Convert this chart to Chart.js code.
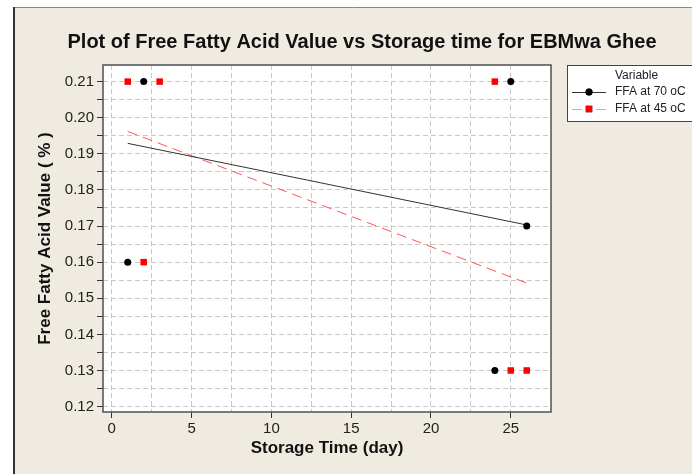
<!DOCTYPE html>
<html>
<head>
<meta charset="utf-8">
<script src="https://cdn.jsdelivr.net/npm/chart.js@4"></script>
<style>
  html, body { margin: 0; padding: 0; background: #ffffff; }
  #wrap { width: 692px; height: 474px; }
</style>
</head>
<body>
<div id="wrap"><canvas id="ffa-chart" width="692" height="474"></canvas></div>
<script>
// Free fatty acid readings (storage day, FFA %)
const days70 = [1, 2, 24, 25, 26];
const ffa70 = [0.16, 0.21, 0.13, 0.21, 0.17];
const days45 = [1, 2, 3, 24, 25, 26];
const ffa45 = [0.21, 0.16, 0.21, 0.21, 0.13, 0.13];

// fitted trend lines at first and last day
const fitDays = [1, 26];
const fit70 = [0.1929, 0.1703];
const fit45 = [0.1962, 0.1542];

// axis ticks (minor every half step, labelled every full step)
const xTickValues = [0, 2.5, 5, 7.5, 10, 12.5, 15, 17.5, 20, 22.5, 25];
const xTickLabels = ["0", "", "5", "", "10", "", "15", "", "20", "", "25"];
const yTickValues = [0.12, 0.125, 0.13, 0.135, 0.14, 0.145, 0.15, 0.155, 0.16, 0.165, 0.17, 0.175, 0.18, 0.185, 0.19, 0.195, 0.20, 0.205, 0.21];
const yTickLabels = ["0.12", "", "0.13", "", "0.14", "", "0.15", "", "0.16", "", "0.17", "", "0.18", "", "0.19", "", "0.20", "", "0.21"];

const chartTitle = "Plot of Free Fatty Acid Value vs Storage time for EBMwa Ghee";
const seriesNames = ["FFA at 70 oC", "FFA at 45 oC"];

const FONT = "'Liberation Sans', Arial, sans-serif";
const toPoints = (xs, ys) => xs.map((x, i) => ({ x: x, y: ys[i] }));

// Minitab style frame, title and legend box
const minitabFrame = {
  id: "minitabFrame",
  beforeDraw(chart) {
    const ctx = chart.ctx;
    const area = chart.chartArea;
    ctx.save();
    ctx.fillStyle = "#ffffff";
    ctx.fillRect(0, 0, chart.width, chart.height);
    ctx.fillStyle = "#efebe0";
    ctx.fillRect(13, 7, chart.width - 13, chart.height - 7);
    ctx.strokeStyle = "#888888";
    ctx.lineWidth = 1;
    ctx.beginPath();
    ctx.moveTo(13, 7.5);
    ctx.lineTo(chart.width, 7.5);
    ctx.stroke();
    ctx.strokeStyle = "#333333";
    ctx.lineWidth = 2;
    ctx.beginPath();
    ctx.moveTo(14, 7);
    ctx.lineTo(14, chart.height);
    ctx.stroke();
    ctx.fillStyle = "#ffffff";
    ctx.fillRect(area.left, area.top, area.right - area.left, area.bottom - area.top);
    ctx.restore();
  },
  afterDraw(chart) {
    const ctx = chart.ctx;
    const area = chart.chartArea;
    ctx.save();
    // plot frame
    ctx.strokeStyle = "#505050";
    ctx.lineWidth = 1.5;
    ctx.strokeRect(area.left, area.top, area.right - area.left, area.bottom - area.top);

    // title
    ctx.fillStyle = "#111111";
    ctx.font = "bold 20px " + FONT;
    ctx.textAlign = "center";
    ctx.textBaseline = "middle";
    ctx.fillText(chartTitle, 362, 42);

    // legend
    const lx = 567, ly = 65;
    ctx.fillStyle = "#ffffff";
    ctx.fillRect(lx, ly, 140, 56);
    ctx.strokeStyle = "#444444";
    ctx.lineWidth = 1;
    ctx.strokeRect(lx + 0.5, ly + 0.5, 140, 56);
    ctx.font = "12px " + FONT;
    ctx.textAlign = "left";
    ctx.fillStyle = "#222222";
    ctx.fillText("Variable", 615, 76);

    const sets = chart.data.datasets.slice(0, 2);
    sets.forEach((ds, i) => {
      const fit = chart.data.datasets[i + 2];
      const y = 92 + i * 17;
      ctx.save();
      ctx.strokeStyle = i === 0 ? fit.borderColor : "#ff9a9a";
      ctx.lineWidth = 1;
      ctx.beginPath();
      if (fit.borderDash) {
        // dash either side of the marker
        ctx.moveTo(572, y + 0.5);
        ctx.lineTo(582, y + 0.5);
        ctx.moveTo(596, y + 0.5);
        ctx.lineTo(606, y + 0.5);
      } else {
        ctx.moveTo(572, y + 0.5);
        ctx.lineTo(606, y + 0.5);
      }
      ctx.stroke();
      ctx.restore();
      Chart.helpers.drawPoint(ctx, {
        pointStyle: ds.pointStyle,
        radius: ds.pointRadius,
        rotation: 0,
        borderWidth: 0
      }, 589, y);
      ctx.fillStyle = ds.backgroundColor;
      ctx.fill();
      ctx.fillStyle = "#222222";
      ctx.fillText(ds.label, 615, y);
    });
    ctx.restore();
  }
};

const ctx = document.getElementById("ffa-chart").getContext("2d");
new Chart(ctx, {
  type: "scatter",
  data: {
    datasets: [
      {
        label: seriesNames[0],
        data: toPoints(days70, ffa70),
        pointStyle: "circle",
        pointRadius: 3.5,
        backgroundColor: "#000000",
        borderWidth: 0,
        showLine: false
      },
      {
        label: seriesNames[1],
        data: toPoints(days45, ffa45),
        pointStyle: "rect",
        pointRadius: 4.6,
        backgroundColor: "#ff0000",
        borderWidth: 0,
        showLine: false
      },
      {
        label: "fit 70",
        data: toPoints(fitDays, fit70),
        showLine: true,
        borderColor: "#333333",
        borderWidth: 1,
        pointRadius: 0
      },
      {
        label: "fit 45",
        data: toPoints(fitDays, fit45),
        showLine: true,
        borderColor: "#ff5555",
        borderWidth: 1,
        borderDash: [10, 6],
        pointRadius: 0
      }
    ]
  },
  options: {
    responsive: false,
    animation: false,
    layout: { padding: { top: 65, right: 141, bottom: 0, left: 0 } },
    plugins: {
      legend: { display: false },
      tooltip: { enabled: false }
    },
    scales: {
      x: {
        type: "linear",
        min: -0.55,
        max: 27.52,
        afterBuildTicks: scale => { scale.ticks = xTickValues.map(v => ({ value: v })); },
        afterFit: scale => { scale.height = 62; },
        ticks: {
          autoSkip: false,
          maxRotation: 0,
          padding: 2,
          color: "#222222",
          font: { family: FONT, size: 15 },
          callback: (v, i) => xTickLabels[i]
        },
        grid: {
          color: "#c8c8c8",
          lineWidth: 1,
          tickColor: c => (xTickLabels[c.index] ? "#333333" : "rgba(0,0,0,0)"),
          tickLength: 6,
          tickWidth: 1
        },
        border: { display: false, dash: [5, 3] },
        title: {
          display: true,
          text: "Storage Time (day)",
          color: "#111111",
          font: { family: FONT, size: 17, weight: "bold" },
          padding: { top: 0, bottom: 15 }
        }
      },
      y: {
        type: "linear",
        min: 0.1185,
        max: 0.2146,
        afterBuildTicks: scale => { scale.ticks = yTickValues.map(v => ({ value: v })); },
        afterFit: scale => { scale.width = 103; },
        ticks: {
          autoSkip: false,
          padding: 3,
          color: "#222222",
          font: { family: FONT, size: 15 },
          callback: (v, i) => yTickLabels[i]
        },
        grid: {
          color: "#c8c8c8",
          lineWidth: 1,
          tickColor: "#333333",
          tickLength: 6,
          tickWidth: 1
        },
        border: { display: false, dash: [5, 3] },
        title: {
          display: true,
          text: "Free Fatty Acid Value ( % )",
          color: "#111111",
          font: { family: FONT, size: 17, weight: "bold" },
          padding: { top: 35, bottom: 0 }
        }
      }
    }
  },
  plugins: [minitabFrame]
});
</script>
</body>
</html>
